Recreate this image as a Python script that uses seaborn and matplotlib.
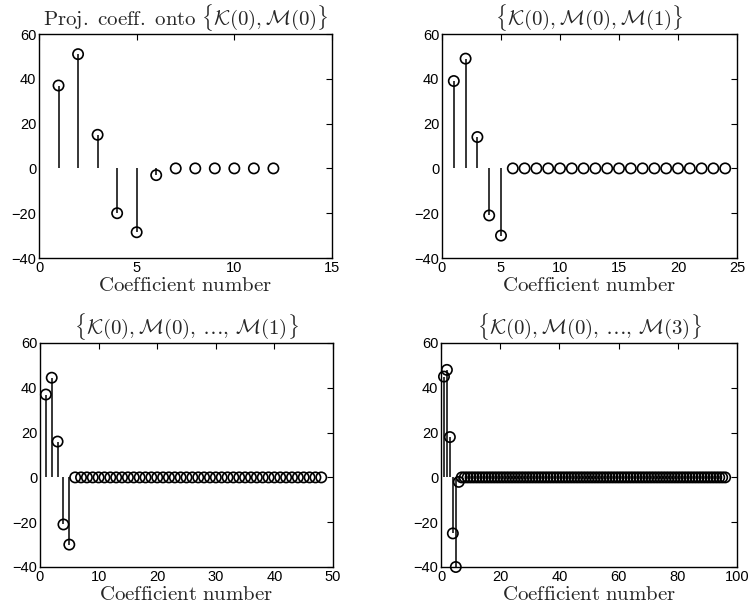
import numpy as np
import pandas as pd
import matplotlib.pyplot as plt
import seaborn as sns

# --- data: projection coefficients per basis ---
coef_k0_m0 = [37, 51, 15, -20, -28.5, -3, 0, 0, 0, 0, 0, 0]
coef_k0_m0_m1 = [39, 49, 14, -21, -30] + [0] * 19
coef_k0_m0_to_m1 = [37, 44.5, 16, -21, -30] + [0] * 43
coef_k0_m0_to_m3 = [45, 48, 18, -25, -40, -2] + [0] * 90

titles = [
    r"$\mathrm{Proj.\ coeff.\ onto}\ \{\mathcal{K}(0),\mathcal{M}(0)\}$",
    r"$\{\mathcal{K}(0),\mathcal{M}(0),\mathcal{M}(1)\}$",
    r"$\{\mathcal{K}(0),\mathcal{M}(0),\,\ldots,\,\mathcal{M}(1)\}$",
    r"$\{\mathcal{K}(0),\mathcal{M}(0),\,\ldots,\,\mathcal{M}(3)\}$",
]
xlims = [15, 25, 50, 100]
xticks = [[0, 5, 10, 15], [0, 5, 10, 15, 20, 25],
          [0, 10, 20, 30, 40, 50], [0, 20, 40, 60, 80, 100]]
yticks = [-40, -20, 0, 20, 40, 60]
all_coefs = [coef_k0_m0, coef_k0_m0_m1, coef_k0_m0_to_m1, coef_k0_m0_to_m3]

sns.set_style("white")
plt.rcParams["font.family"] = ["Liberation Sans", "DejaVu Sans"]
plt.rcParams["mathtext.fontset"] = "cm"

fig = plt.figure(figsize=(7.51, 6.14), dpi=100)
W, H = 751, 614
boxes = [(39, 34, 332, 258), (442, 34, 737, 258),
         (40, 343, 333, 567), (441, 343, 737, 567)]

for i, coefs in enumerate(all_coefs):
    x0, y0, x1, y1 = boxes[i]
    ax = fig.add_axes([x0 / W, 1 - y1 / H, (x1 - x0) / W, (y1 - y0) / H])
    df = pd.DataFrame({"n": np.arange(1, len(coefs) + 1), "c": coefs})
    ax.vlines(df["n"], 0, df["c"], color="black", lw=1.1)
    sns.scatterplot(data=df, x="n", y="c", ax=ax, marker="o", s=55,
                    facecolor="none", edgecolor="black", linewidth=1.2,
                    zorder=3, clip_on=False)
    ax.set_xlim(0, xlims[i])
    ax.set_ylim(-40, 60)
    ax.set_xticks(xticks[i])
    ax.set_yticks(yticks)
    ax.tick_params(direction="in", top=True, right=True, length=4,
                   width=0.8, labelsize=10.5, pad=2, colors="black")
    for s in ax.spines.values():
        s.set_color("black")
        s.set_linewidth(1.0)
    ax.set_title(titles[i], fontsize=15, pad=6)
    ax.set_xlabel(r"$\mathrm{Coefficient\ number}$", fontsize=15, labelpad=1)
    ax.set_ylabel("")

fig.savefig("out.png", dpi=100)
